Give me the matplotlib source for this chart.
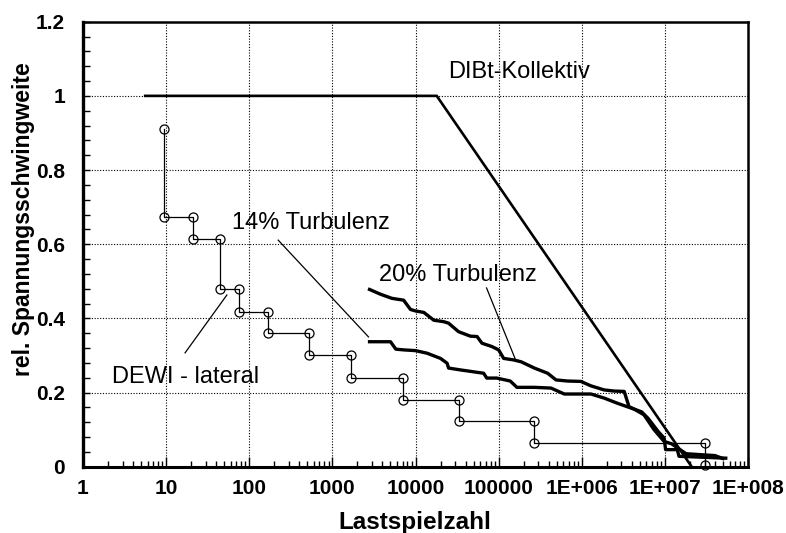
import matplotlib
matplotlib.use("Agg")
import matplotlib.pyplot as plt
from matplotlib.ticker import FixedLocator, MultipleLocator, NullFormatter
import numpy as np

plt.rcParams['font.family'] = ['Liberation Sans', 'DejaVu Sans']

# DIBt-Kollektiv
dibt_n = [5.6, 18000, 2.1e7]
dibt_y = [1.0, 1.0, 0.0]

# DEWI - lateral (step curve with markers)
dewi_n = [9.3, 9.3, 21, 21, 45, 45, 76, 76, 166, 166, 520, 520, 1680, 1680,
          7000, 7000, 33000, 33000, 266000, 266000, 3.0e7, 3.0e7]
dewi_y = [0.91, 0.673, 0.673, 0.613, 0.613, 0.478, 0.478, 0.418, 0.418, 0.36,
          0.36, 0.30, 0.30, 0.24, 0.24, 0.18, 0.18, 0.122, 0.122, 0.064, 0.064, 0.005]

# 20% Turbulenz
t20_n = [2800, 3800, 5200, 7200, 8700, 10000, 12600, 16600, 21900, 25000, 33000,
         45700, 55000, 63000, 83000, 100000, 115000, 151000, 186000, 269000,
         389000, 490000, 676000, 977000, 1.29e6, 1.86e6, 2.45e6, 3.24e6, 3.7e6,
         4.3e6, 5.25e6, 6.3e6, 8.3e6, 9.8e6, 1.02e7, 1.41e7, 1.48e7, 5.4e7]
t20_y = [0.478, 0.465, 0.454, 0.449, 0.424, 0.42, 0.416, 0.395, 0.391, 0.387, 0.364,
         0.352, 0.351, 0.333, 0.324, 0.315, 0.292, 0.288, 0.283, 0.266,
         0.252, 0.234, 0.231, 0.23, 0.218, 0.207, 0.204, 0.203, 0.162,
         0.155, 0.148, 0.13, 0.095, 0.077, 0.046, 0.046, 0.028, 0.023]

# 14% Turbulenz
t14_n = [2800, 5000, 5800, 7200, 10000, 13800, 20000, 24000, 25000, 34700, 66000,
         72000, 95000, 138000, 166000, 269000, 427000, 617000, 977000, 1.29e6,
         1.86e6, 2.69e6, 4.3e6, 5.6e6, 7.4e6, 9.8e6, 1.2e7, 1.55e7, 1.8e7, 4.0e7, 5.0e7]
t14_y = [0.337, 0.337, 0.317, 0.315, 0.313, 0.306, 0.292, 0.279, 0.266, 0.261, 0.252,
         0.239, 0.239, 0.231, 0.214, 0.214, 0.212, 0.196, 0.196, 0.196,
         0.185, 0.171, 0.155, 0.14, 0.10, 0.068, 0.062, 0.045, 0.035, 0.03, 0.022]

# pointer lines for labels
ptr14_n, ptr14_y = [223, 2720], [0.611, 0.350]
ptr20_n, ptr20_y = [71600, 160000], [0.482, 0.288]
ptrdw_n, ptrdw_y = [53.8, 16.9], [0.463, 0.307]

xtick_vals = [1, 10, 100, 1000, 10000, 100000, 1e6, 1e7, 1e8]
xtick_labels = ['1', '10', '100', '1000', '10000', '100000', '1E+006', '1E+007', '1E+008']
ytick_vals = [0, 0.2, 0.4, 0.6, 0.8, 1.0, 1.2]
ytick_labels = ['0', '0.2', '0.4', '0.6', '0.8', '1', '1.2']

fig = plt.figure(figsize=(7.86, 5.33), dpi=100)
ax = fig.add_axes([83/786, 1-466.7/533, (748-83)/786, (466.7-21.7)/533])

ax.set_xscale('log')
ax.set_xlim(1, 1e8)
ax.set_ylim(0, 1.2)

ax.grid(True, which='major', linestyle=(0, (1, 1.5)), color='black', linewidth=0.8)

ax.plot(dibt_n, dibt_y, color='black', linewidth=1.9, solid_joinstyle='miter')
ax.plot(t14_n, t14_y, color='black', linewidth=2.4)
ax.plot(t20_n, t20_y, color='black', linewidth=2.4)
ax.plot(dewi_n, dewi_y, color='black', linewidth=0.9, marker='o', markersize=6.5,
        markerfacecolor='none', markeredgecolor='black', markeredgewidth=0.9,
        clip_on=False, zorder=5)

for pn, py in [(ptr14_n, ptr14_y), (ptr20_n, ptr20_y), (ptrdw_n, ptrdw_y)]:
    ax.plot(pn, py, color='black', linewidth=0.9)

tkw = dict(fontsize=17, color='black', ha='center', va='baseline')
ax.text(10**5.249, 1.047, 'DIBt-Kollektiv', **tkw)
ax.text(10**2.739, 0.641, '14% Turbulenz', **tkw)
ax.text(10**4.51, 0.502, '20% Turbulenz', **tkw)
ax.text(10**1.231, 0.225, 'DEWI - lateral', **tkw)

ax.xaxis.set_major_locator(FixedLocator(xtick_vals))
ax.set_xticklabels(xtick_labels)
minor_x = [m * 10**d for d in range(0, 8) for m in range(2, 10)]
ax.xaxis.set_minor_locator(FixedLocator(minor_x))
ax.xaxis.set_minor_formatter(NullFormatter())
ax.yaxis.set_major_locator(FixedLocator(ytick_vals))
ax.set_yticklabels(ytick_labels)
ax.yaxis.set_minor_locator(MultipleLocator(0.04))

ax.tick_params(axis='both', which='both', direction='in', color='black')
ax.tick_params(axis='x', which='major', length=7, width=1, pad=9)
ax.tick_params(axis='x', which='minor', length=4, width=1)
ax.tick_params(axis='y', which='major', length=5, width=1, pad=13)
ax.tick_params(axis='y', which='minor', length=5, width=1)
for lab in ax.get_xticklabels() + ax.get_yticklabels():
    lab.set_fontsize(15)
    lab.set_fontweight('bold')

for s in ax.spines.values():
    s.set_linewidth(1.8)
    s.set_color('black')
ax.spines['left'].set_linewidth(2.4)
ax.spines['bottom'].set_linewidth(2.2)

fig.text(415/786, 1-522/533, 'Lastspielzahl', fontsize=17.5, fontweight='bold',
         ha='center', va='center')
fig.text(24/786, 1-219.5/533, 'rel. Spannungsschwingweite', fontsize=16.5,
         fontweight='bold', rotation=90, ha='center', va='center')

fig.savefig('out.png', dpi=100)
